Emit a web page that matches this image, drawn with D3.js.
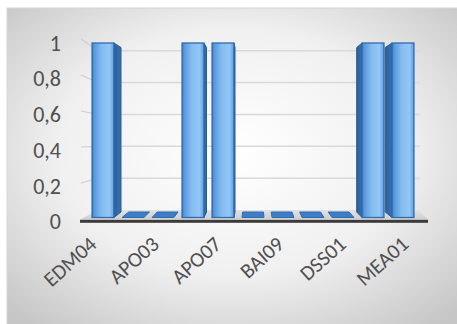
<!DOCTYPE html>
<html><head><meta charset="utf-8">
<script src="https://cdn.jsdelivr.net/npm/d3@7/dist/d3.min.js"></script>
<style>html,body{margin:0;padding:0;background:#fff;}svg{display:block;}</style>
</head><body>
<svg id="chart" width="457" height="324"></svg>
<script>
// ---- data ----
const categories = ["EDM04","(2)","APO03","(4)","APO07","(6)","BAI09","(8)","DSS01","(10)","MEA01"];
const values     = [1, 0, 0, 1, 1, 0, 0, 0, 0, 1, 1];
const shownLabels = ["EDM04","APO03","APO07","BAI09","DSS01","MEA01"];
const yTicks = [0, 0.2, 0.4, 0.6, 0.8, 1];

const svg = d3.select("#chart");
const defs = svg.append("defs");

// background gradient
const bg = defs.append("radialGradient").attr("id","bg").attr("cx","50%").attr("cy","45%").attr("r","70%");
bg.append("stop").attr("offset","0%").attr("stop-color","#ffffff");
bg.append("stop").attr("offset","55%").attr("stop-color","#f0f0f0");
bg.append("stop").attr("offset","100%").attr("stop-color","#c6c6c6");

const fg = defs.append("linearGradient").attr("id","front").attr("x1","0").attr("x2","1").attr("y1","0").attr("y2","0");
[["0%","#3f80c9"],["12%","#5b9be0"],["45%","#86bdf0"],["80%","#92c6f5"],["100%","#5e9ee2"]]
  .forEach(([o,c])=>fg.append("stop").attr("offset",o).attr("stop-color",c));
const sg = defs.append("linearGradient").attr("id","side").attr("x1","0").attr("x2","1");
[["0%","#2c5f99"],["100%","#3a72b3"]].forEach(([o,c])=>sg.append("stop").attr("offset",o).attr("stop-color",c));
const fl = defs.append("linearGradient").attr("id","floor").attr("x1","0").attr("x2","0").attr("y1","0").attr("y2","1");
[["0%","#e2e2e2"],["100%","#cfcfcf"]].forEach(([o,c])=>fl.append("stop").attr("offset",o).attr("stop-color",c));

svg.append("rect").attr("x",7).attr("y",8).attr("width",452).attr("height",320)
  .attr("fill","url(#bg)").attr("stroke","#d6d6d6").attr("stroke-width",1);

// ---- scales ----
const vx = 255;               // horizontal vanishing centre
const depthX = 0.95;          // horizontal shrink at bar back
const x = d3.scaleBand().domain(categories).range([88, 418]).paddingInner(0.27).paddingOuter(0.135);
const yFront = d3.scaleLinear().domain([0,1]).range([217.5, 43]);   // bar front plane
const yBarBack = d3.scaleLinear().domain([0,1]).range([212, 47.5]); // bar back plane
const yWall = d3.scaleLinear().domain([0,1]).range([210, 50.7]);    // back wall gridlines
const yLabel = d3.scaleLinear().domain([0,1]).range([221.7, 43.3]); // axis labels
const yStub = d3.scaleLinear().domain([0,1]).range([219, 39]);      // side wall front edge
const back = xv => vx + (xv - vx) * depthX;
const labelX = d3.scaleLinear().domain([vx - 100, vx + 100]).range([vx - 104, vx + 104]);

const fmt = d3.formatLocale({decimal:",", thousands:".", grouping:[3], currency:["","€"]}).format("~g");

// ---- floor ----
const floorPts = [[80, 219.5],[428, 219.5],[418, yWall(0)],[98, yWall(0)]];
svg.append("path").attr("d", d3.line()(floorPts)+"Z").attr("fill","url(#floor)");

// ---- gridlines (back wall + side wall stubs) ----
const grid = svg.append("g");
grid.selectAll("line.back").data(yTicks.filter(d=>d>0)).join("line")
  .attr("x1", 98).attr("x2", 420)
  .attr("y1", d=>yWall(d)).attr("y2", d=>yWall(d))
  .attr("stroke","#d9d9d9").attr("stroke-width",1.5);
grid.selectAll("line.stub").data(yTicks.filter(d=>d>0)).join("line")
  .attr("x1", 81).attr("x2", 98)
  .attr("y1", d=>yStub(d)).attr("y2", d=>yWall(d))
  .attr("stroke","#cfcfcf").attr("stroke-width",1.2);

// floor front edge
svg.append("rect").attr("x",80).attr("y",219.8).attr("width",348).attr("height",3)
  .attr("fill","#3b3b3b");

// ---- bars ----
const bars = svg.append("g");
const data = categories.map((c,i)=>({c, v: values[i]}));
data.forEach(d => {
  const f0 = x(d.c), f1 = x(d.c) + x.bandwidth();
  const b0 = back(f0), b1 = back(f1);
  const ft = yFront(d.v), fb = yFront(0), bt = yBarBack(d.v), bb = yBarBack(0);
  const cx = f0 + x.bandwidth()/2;
  const g = bars.append("g");
  if (d.v > 0) {
    const side = cx < vx
      ? [[f1,ft],[b1,bt],[b1,bb],[f1,fb]]
      : [[f0,ft],[b0,bt],[b0,bb],[f0,fb]];
    g.append("path").attr("d", d3.line()(side)+"Z")
      .attr("fill","url(#side)").attr("stroke","#2a5b93").attr("stroke-width",1);
    g.append("rect").attr("x",f0).attr("y",ft).attr("width",f1-f0).attr("height",fb-ft)
      .attr("fill","url(#front)").attr("stroke","#2e6cb0").attr("stroke-width",1.3);
  } else {
    const top = [[f0,fb],[f1,fb],[b1,bb],[b0,bb]];
    g.append("path").attr("d", d3.line()(top)+"Z")
      .attr("fill","#3f7ec6").attr("stroke","#2e6cb0").attr("stroke-width",1);
  }
});

// ---- y axis labels ----
svg.append("g").selectAll("text").data(yTicks).join("text")
  .attr("x", 61).attr("y", d=>yLabel(d))
  .attr("text-anchor","end").attr("dominant-baseline","central")
  .attr("font-family","Carlito, Lato, 'Liberation Sans', sans-serif").attr("font-size",22)
  .attr("fill","#505050")
  .text(d=>fmt(d));

// ---- category labels ----
svg.append("g").selectAll("text").data(shownLabels).join("text")
  .attr("transform", d => {
    const cx = x(d) + x.bandwidth()/2;
    return `translate(${labelX(cx) + 1},246) rotate(-42)`;
  })
  .attr("text-anchor","end")
  .attr("font-family","Carlito, Lato, 'Liberation Sans', sans-serif").attr("font-size",21)
  .attr("fill","#505050")
  .text(d=>d);
</script>
</body></html>
